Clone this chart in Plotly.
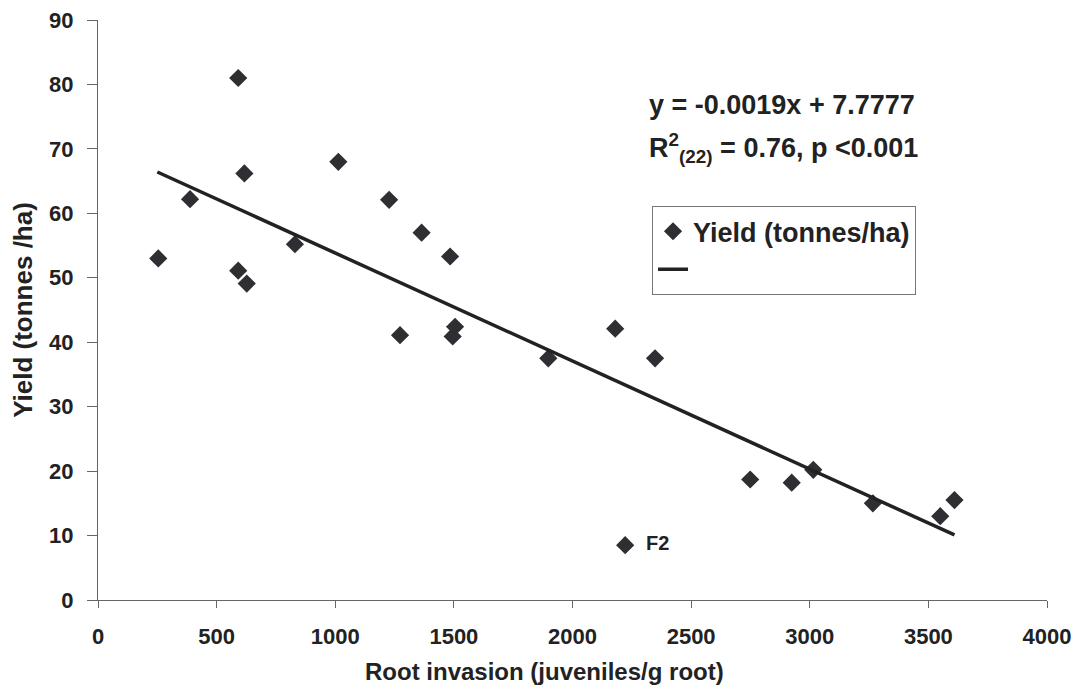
import plotly.graph_objects as go

# Data
root_invasion = [254, 388, 591, 591, 617, 627, 830, 1013, 1227, 1273, 1364, 1484,
                 1495, 1505, 1898, 2180, 2348, 2749, 2924, 3015, 3266, 3550, 3610]
yield_t = [53.0, 62.2, 81.0, 51.1, 66.2, 49.1, 55.2, 68.0, 62.1, 41.1, 57.0, 53.3,
           40.9, 42.4, 37.5, 42.1, 37.5, 18.7, 18.2, 20.2, 15.0, 13.0, 15.5]
outlier_x = [2222]
outlier_y = [8.5]
outlier_label = ["F2"]

trend_x = [250, 3610]
trend_slope = -0.01676
trend_intercept = 70.6
trend_y = [trend_intercept + trend_slope * v for v in trend_x]

x_ticks = [0, 500, 1000, 1500, 2000, 2500, 3000, 3500, 4000]
y_ticks = [0, 10, 20, 30, 40, 50, 60, 70, 80, 90]

eq_text = "y = -0.0019x + 7.7777"
r2_text = "R<sup>2</sup><sub>(22)</sub> = 0.76, p <0.001"
x_title = "Root invasion (juveniles/g root)"
y_title = "Yield (tonnes /ha)"

FONT = "Liberation Sans, Arial, sans-serif"
MARK = "#2e2e33"
TXT = "#222222"

fig = go.Figure()
fig.add_trace(go.Scatter(
    x=root_invasion, y=yield_t, mode="markers", name="Yield (tonnes/ha)",
    marker=dict(symbol="diamond", size=14, color=MARK),
))
fig.add_trace(go.Scatter(
    x=outlier_x, y=outlier_y, mode="markers+text", text=outlier_label,
    textposition="middle right", showlegend=False,
    textfont=dict(family=FONT, size=20, color=TXT, weight="bold"),
    texttemplate="  %{text}",
    marker=dict(symbol="diamond", size=14, color=MARK),
))
fig.add_trace(go.Scatter(
    x=trend_x, y=trend_y, mode="lines", name=" ",
    line=dict(color="#222", width=3.5),
))

fig.add_annotation(
    x=2314, y=76.8, xref="x", yref="y", xanchor="left", yanchor="middle",
    text=eq_text, showarrow=False,
    font=dict(family=FONT, size=27, color=TXT, weight="bold"),
)
fig.add_annotation(
    x=2314, y=70.2, xref="x", yref="y", xanchor="left", yanchor="middle",
    text=r2_text, showarrow=False,
    font=dict(family=FONT, size=27, color=TXT, weight="bold"),
)
fig.add_annotation(
    x=1884, y=-0.124, xref="x", yref="paper", xanchor="center", yanchor="middle",
    text=x_title, showarrow=False,
    font=dict(family=FONT, size=24, color=TXT, weight="bold"),
)

fig.update_layout(
    width=1078, height=684,
    margin=dict(l=90, r=39, t=12, b=92, autoexpand=False),
    paper_bgcolor="white", plot_bgcolor="white",
    font=dict(family=FONT, color=TXT),
    showlegend=True,
    legend=dict(
        x=0.5838, y=0.679, xanchor="left", yanchor="top",
        bordercolor="#777", borderwidth=1, bgcolor="white",
        font=dict(family=FONT, size=27, color=TXT, weight="bold"),
        itemwidth=30, tracegroupgap=0,
    ),
    xaxis=dict(
        range=[0, 4000], tickvals=x_ticks, showgrid=False, zeroline=False,
        showline=True, linecolor="#666", linewidth=1, automargin=False,
        ticks="outside", ticklen=7, tickcolor="#666", ticklabelstandoff=10,
        ticklabeloverflow="allow",
        tickfont=dict(family=FONT, size=22, color=TXT, weight="bold"),
    ),
    yaxis=dict(
        range=[0, 90], tickvals=y_ticks, showgrid=False, zeroline=False,
        showline=True, linecolor="#666", linewidth=1, automargin=False,
        ticks="outside", ticklen=10, tickcolor="#666", ticklabelstandoff=9,
        ticklabeloverflow="allow",
        tickfont=dict(family=FONT, size=22, color=TXT, weight="bold"),
        title=dict(text=y_title,
                   font=dict(family=FONT, size=26, color=TXT, weight="bold"), standoff=12),
    ),
)

fig.write_html("out.html")
